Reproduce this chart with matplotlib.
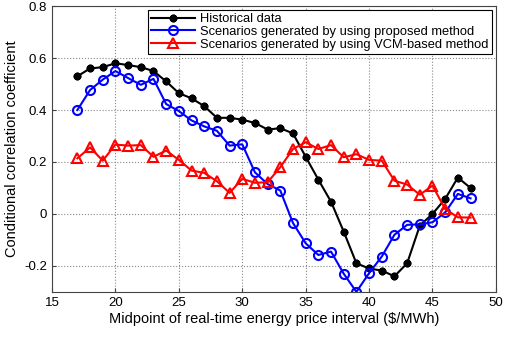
import matplotlib
matplotlib.use("Agg")
import matplotlib.pyplot as plt

plt.rcParams['font.family'] = ['Liberation Sans', 'DejaVu Sans']

x = list(range(17, 49))
historical = [0.53, 0.56, 0.565, 0.58, 0.573, 0.565, 0.55, 0.51, 0.465, 0.445, 0.415, 0.37,
              0.37, 0.363, 0.35, 0.325, 0.33, 0.31, 0.22, 0.132, 0.047, -0.068, -0.19, -0.21,
              -0.218, -0.24, -0.19, -0.045, 0.0, 0.058, 0.14, 0.10]
proposed = [0.40, 0.477, 0.517, 0.55, 0.523, 0.497, 0.52, 0.423, 0.396, 0.36, 0.337, 0.32,
            0.263, 0.268, 0.16, 0.115, 0.09, -0.035, -0.113, -0.158, -0.145, -0.23, -0.30,
            -0.228, -0.164, -0.08, -0.042, -0.04, -0.032, 0.006, 0.077, 0.06]
vcm = [0.214, 0.256, 0.205, 0.267, 0.263, 0.265, 0.22, 0.244, 0.208, 0.167, 0.158, 0.126,
       0.081, 0.135, 0.12, 0.122, 0.18, 0.25, 0.276, 0.25, 0.265, 0.218, 0.23, 0.208,
       0.205, 0.128, 0.113, 0.074, 0.109, 0.019, -0.013, -0.014]

labels = ["Historical data",
          "Scenarios generated by using proposed method",
          "Scenarios generated by using VCM-based method"]

fig = plt.figure(figsize=(5.05, 3.39), dpi=100)
ax = fig.add_axes([0.103, 0.139, 0.879, 0.843])

ax.plot(x, historical, color='black', lw=1.5, marker=(8, 2, 0), markersize=5.5,
        markeredgewidth=1.8, label=labels[0])
ax.plot(x, proposed, color='blue', lw=1.5, marker='o', markersize=6.5,
        markerfacecolor='none', markeredgewidth=1.5, label=labels[1])
ax.plot(x, vcm, color='red', lw=1.5, marker='^', markersize=7.5,
        markerfacecolor='none', markeredgewidth=1.5, label=labels[2])

ax.set_xlim(15, 50)
ax.set_ylim(-0.3, 0.8)
ax.set_xticks([15, 20, 25, 30, 35, 40, 45, 50])
ax.set_yticks([-0.2, 0, 0.2, 0.4, 0.6, 0.8])
ax.set_yticklabels(['-0.2', '0', '0.2', '0.4', '0.6', '0.8'])
ax.grid(True, linestyle=':', color='#888888', lw=0.8)
ax.tick_params(direction='in', labelsize=9.5, length=3, color='#444444')
for s in ax.spines.values():
    s.set_color('#444444')
    s.set_linewidth(0.8)

ax.set_xlabel('Midpoint of real-time energy price interval ($/MWh)', fontsize=10.5, labelpad=2)
ax.set_ylabel('Conditional correlation coefficient', fontsize=10.5, labelpad=4)

leg = ax.legend(loc='upper right', fontsize=9.3, frameon=True, fancybox=False,
                edgecolor='black', framealpha=1, borderpad=0.25, labelspacing=0.05,
                handlelength=3.4, handletextpad=0.4, borderaxespad=0.3)
leg.get_frame().set_linewidth(0.8)

fig.savefig('out.png', dpi=100)
